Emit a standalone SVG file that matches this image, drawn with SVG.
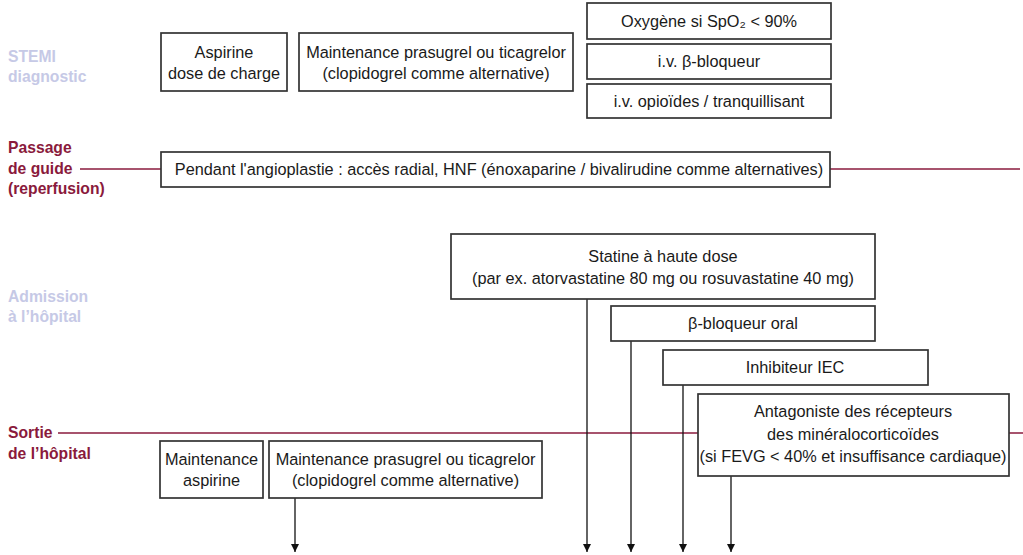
<svg xmlns="http://www.w3.org/2000/svg" width="1023" height="555" viewBox="0 0 1023 555">
<style>
.box{fill:#fff;stroke:#333;stroke-width:1.7}
.t{font-family:"Liberation Sans",Arial,sans-serif;font-size:16.3px;fill:#1a1a1a;text-anchor:middle}
.lbl{font-family:"Liberation Sans",Arial,sans-serif;font-size:15.7px;font-weight:bold}
.lav{fill:#c6c9e6}
.red{fill:#8a1a3c}
.rl{stroke:#8a1a3c;stroke-width:1.3;fill:none}
.ar{stroke:#111;stroke-width:1.3;fill:none;marker-end:url(#ah)}
</style>
<defs>
<marker id="ah" viewBox="0 0 10 10" refX="10" refY="5" markerWidth="8" markerHeight="8" markerUnits="userSpaceOnUse" orient="auto">
<path d="M0,0 L10,5 L0,10 z" fill="#111"/>
</marker>
</defs>
<rect width="1023" height="555" fill="#fff"/>

<g id="stage-labels">
<text class="lbl lav" x="8" y="62">STEMI</text>
<text class="lbl lav" x="8" y="82">diagnostic</text>
<text class="lbl red" x="8" y="153">Passage</text>
<text class="lbl red" x="8" y="174">de guide</text>
<text class="lbl red" x="8" y="194">(reperfusion)</text>
<text class="lbl lav" x="8" y="302">Admission</text>
<text class="lbl lav" x="8" y="322">à l’hôpital</text>
<text class="lbl red" x="8" y="438">Sortie</text>
<text class="lbl red" x="8" y="459">de l’hôpital</text>
</g>

<g id="timeline-lines">
<line class="rl" x1="80" y1="169" x2="161" y2="169"/>
<line class="rl" x1="830" y1="169" x2="1020" y2="169"/>
<line class="rl" x1="58" y1="433" x2="1023" y2="433"/>
</g>

<g id="connectors">
<line class="ar" x1="295" y1="498" x2="295" y2="552"/>
<line class="ar" x1="587" y1="299" x2="587" y2="552"/>
<line class="ar" x1="631" y1="341" x2="631" y2="552"/>
<line class="ar" x1="683" y1="385" x2="683" y2="552"/>
<line class="ar" x1="731" y1="476" x2="731" y2="552"/>
</g>

<g id="aspirine-charge">
<rect class="box" x="161" y="33" width="126" height="58"/>
<text class="t" x="224" y="58">Aspirine</text>
<text class="t" x="224" y="79">dose de charge</text>
</g>
<g id="maintenance-p2y12-initial">
<rect class="box" x="299" y="33" width="274" height="58"/>
<text class="t" x="436" y="58">Maintenance prasugrel ou ticagrelor</text>
<text class="t" x="436" y="79">(clopidogrel comme alternative)</text>
</g>
<g id="oxygene">
<rect class="box" x="587" y="3" width="244" height="36"/>
<text class="t" x="709" y="27">Oxygène si SpO₂ &lt; 90%</text>
</g>
<g id="iv-betabloqueur">
<rect class="box" x="587" y="44" width="244" height="35"/>
<text class="t" x="709" y="67">i.v. β-bloqueur</text>
</g>
<g id="iv-opioides">
<rect class="box" x="587" y="84" width="244" height="34"/>
<text class="t" x="709" y="107">i.v. opioïdes / tranquillisant</text>
</g>
<g id="angioplastie">
<rect class="box" x="161" y="152" width="669" height="35"/>
<text class="t" x="499" y="175">Pendant l'angioplastie : accès radial, HNF (énoxaparine / bivalirudine comme alternatives)</text>
</g>
<g id="statine">
<rect class="box" x="451" y="234" width="424" height="65"/>
<text class="t" x="663" y="262">Statine à haute dose</text>
<text class="t" x="663" y="284">(par ex. atorvastatine 80 mg ou rosuvastatine 40 mg)</text>
</g>
<g id="betabloqueur-oral">
<rect class="box" x="611" y="306" width="264" height="35"/>
<text class="t" x="743" y="329">β-bloqueur oral</text>
</g>
<g id="inhibiteur-iec">
<rect class="box" x="663" y="350" width="265" height="35"/>
<text class="t" x="795" y="373">Inhibiteur IEC</text>
</g>
<g id="antagoniste">
<rect class="box" x="698" y="394" width="311" height="82"/>
<text class="t" x="853" y="417">Antagoniste des récepteurs</text>
<text class="t" x="853" y="440">des minéralocorticoïdes</text>
<text class="t" x="853" y="462">(si FEVG &lt; 40% et insuffisance cardiaque)</text>
</g>
<g id="maintenance-aspirine">
<rect class="box" x="160" y="441" width="103" height="57"/>
<text class="t" x="211.5" y="465">Maintenance</text>
<text class="t" x="211.5" y="486">aspirine</text>
</g>
<g id="maintenance-p2y12-sortie">
<rect class="box" x="269" y="441" width="273" height="57"/>
<text class="t" x="405.5" y="465">Maintenance prasugrel ou ticagrelor</text>
<text class="t" x="405.5" y="486">(clopidogrel comme alternative)</text>
</g>
</svg>
